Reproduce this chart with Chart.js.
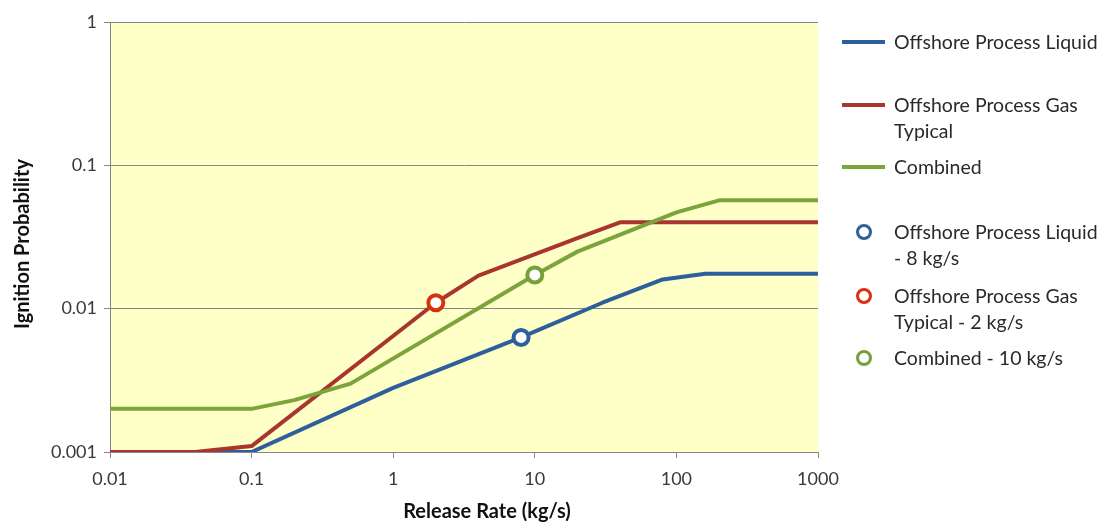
<!DOCTYPE html>
<html><head><meta charset="utf-8">
<script src="https://cdn.jsdelivr.net/npm/chart.js@4"></script>
<style>
html,body{margin:0;padding:0;background:#fff;}
#wrap{position:relative;width:1101px;height:522px;overflow:hidden;}
canvas{position:absolute;left:0;top:0;}
.leg{position:absolute;left:894px;font-family:Lato,"Open Sans",sans-serif;font-size:19.5px;color:#2a2a2a;line-height:26px;white-space:nowrap;}
.sym-line{position:absolute;left:842px;width:43px;height:4px;}
.sym-dot{position:absolute;left:856px;width:10px;height:10px;border-radius:50%;border:3px solid;background:#fff;}
</style></head><body>
<div id="wrap"><canvas id="c" width="1101" height="522"></canvas><div id="legend"></div></div>
<script>
// ---- data ----
const liquidX = [0.01, 0.1, 1, 8, 30, 80, 160, 1000];
const liquidY = [0.001, 0.001, 0.0028, 0.0063, 0.011, 0.016, 0.0175, 0.0175];
const gasX = [0.01, 0.04, 0.1, 2, 4, 20, 40, 1000];
const gasY = [0.001, 0.001, 0.0011, 0.011, 0.017, 0.031, 0.04, 0.04];
const combinedX = [0.01, 0.1, 0.2, 0.5, 10, 20, 100, 200, 1000];
const combinedY = [0.002, 0.002, 0.0023, 0.003, 0.0172, 0.025, 0.047, 0.057, 0.057];
const liquidPointX = [8];
const liquidPointY = [0.0063];
const gasPointX = [2];
const gasPointY = [0.011];
const combinedPointX = [10];
const combinedPointY = [0.0172];
const xTickValues = [0.01, 0.1, 1, 10, 100, 1000];
const xTickLabels = ['0.01', '0.1', '1', '10', '100', '1000'];
const yTickValues = [0.001, 0.01, 0.1, 1];
const yTickLabels = ['0.001', '0.01', '0.1', '1'];
const seriesNames = ['Offshore Process Liquid', 'Offshore Process Gas Typical', 'Combined',
  'Offshore Process Liquid - 8 kg/s', 'Offshore Process Gas Typical - 2 kg/s', 'Combined - 10 kg/s'];
const xTitle = 'Release Rate (kg/s)';
const yTitle = 'Ignition Probability';

const zip = (xs, ys) => xs.map((x, i) => ({x: x, y: ys[i]}));
const C = {liq: '#2D5F9B', gas: '#A9352F', comb: '#7BA43B', liqM: '#2D5F9B', gasM: '#D7320F', combM: '#76A138'};
const FONT = 'Lato, "Open Sans", sans-serif';

const lineDs = (label, data, color, order) => ({
  label, data, order, showLine: true, borderColor: color, backgroundColor: color,
  borderWidth: 4, pointRadius: 0, pointHoverRadius: 0, tension: 0, fill: false, borderJoinStyle: 'round'
});
const markDs = (label, data, color) => ({
  label, data, order: 0, showLine: false, borderColor: color, backgroundColor: '#ffffff',
  borderWidth: 4, pointRadius: 7.5, pointHoverRadius: 7.5
});

const bgPlugin = {
  id: 'bg',
  beforeDraw(chart) {
    const {ctx, chartArea: a} = chart;
    ctx.save();
    ctx.fillStyle = 'rgb(255,255,200)';
    ctx.fillRect(a.left, a.top, a.right - a.left, a.bottom - a.top);
    ctx.restore();
  }
};
const titlePlugin = {
  id: 'titles',
  afterDraw(chart) {
    const ctx = chart.ctx;
    ctx.save();
    ctx.fillStyle = '#111';
    ctx.font = 'bold 20px ' + FONT;
    ctx.textAlign = 'center';
    ctx.textBaseline = 'middle';
    ctx.fillText(xTitle, 487, 512);
    ctx.translate(23, 244);
    ctx.rotate(-Math.PI / 2);
    ctx.fillText(yTitle, 0, 0);
    ctx.restore();
  }
};

new Chart(document.getElementById('c'), {
  type: 'scatter',
  data: {
    datasets: [
      lineDs(seriesNames[0], zip(liquidX, liquidY), C.liq, 3),
      lineDs(seriesNames[1], zip(gasX, gasY), C.gas, 2),
      lineDs(seriesNames[2], zip(combinedX, combinedY), C.comb, 1),
      markDs(seriesNames[3], zip(liquidPointX, liquidPointY), C.liqM),
      markDs(seriesNames[4], zip(gasPointX, gasPointY), C.gasM),
      markDs(seriesNames[5], zip(combinedPointX, combinedPointY), C.combM)
    ]
  },
  options: {
    responsive: false,
    animation: false,
    devicePixelRatio: 1,
    layout: {padding: {left: 0, right: 283, top: 22, bottom: 0}},
    plugins: {legend: {display: false}, tooltip: {enabled: false}},
    scales: {
      x: {
        type: 'logarithmic', min: 0.01, max: 1000,
        afterBuildTicks: s => { s.ticks = xTickValues.map(v => ({value: v})); },
        afterFit: s => { s.height = 70; },
        ticks: {autoSkip: false, maxRotation: 0, padding: 10, color: '#3a3a3a',
          font: {family: FONT, size: 18}, callback: (v, i) => xTickLabels[i]},
        grid: {drawOnChartArea: false, drawTicks: true, tickLength: 6, color: '#868686'},
        border: {color: '#868686', width: 1}
      },
      y: {
        type: 'logarithmic', min: 0.001, max: 1,
        afterBuildTicks: s => { s.ticks = yTickValues.map(v => ({value: v})); },
        afterFit: s => { s.width = 110; },
        ticks: {autoSkip: false, padding: 7, color: '#3a3a3a',
          font: {family: FONT, size: 18}, callback: (v, i) => yTickLabels[i]},
        grid: {drawOnChartArea: true, drawTicks: true, tickLength: 6, color: '#868686'},
        border: {color: '#868686', width: 1}
      }
    }
  },
  plugins: [bgPlugin, titlePlugin]
});

// ---- HTML legend ----
const legendItems = [
  {type: 'line', color: C.liq, y: 42, lines: ['Offshore Process Liquid']},
  {type: 'line', color: C.gas, y: 105, lines: ['Offshore Process Gas', 'Typical']},
  {type: 'line', color: C.comb, y: 167, lines: ['Combined']},
  {type: 'dot', color: C.liqM, y: 232, lines: ['Offshore Process Liquid', '- 8 kg/s']},
  {type: 'dot', color: C.gasM, y: 296, lines: ['Offshore Process Gas', 'Typical - 2 kg/s']},
  {type: 'dot', color: C.combM, y: 358, lines: ['Combined - 10 kg/s']}
];
const leg = document.getElementById('legend');
legendItems.forEach(it => {
  const s = document.createElement('div');
  if (it.type === 'line') {
    s.className = 'sym-line';
    s.style.top = (it.y - 2) + 'px';
    s.style.background = it.color;
  } else {
    s.className = 'sym-dot';
    s.style.top = (it.y - 8) + 'px';
    s.style.borderColor = it.color;
  }
  leg.appendChild(s);
  const t = document.createElement('div');
  t.className = 'leg';
  t.style.top = (it.y - 13) + 'px';
  t.innerHTML = it.lines.join('<br>');
  leg.appendChild(t);
});
</script>
</body></html>
